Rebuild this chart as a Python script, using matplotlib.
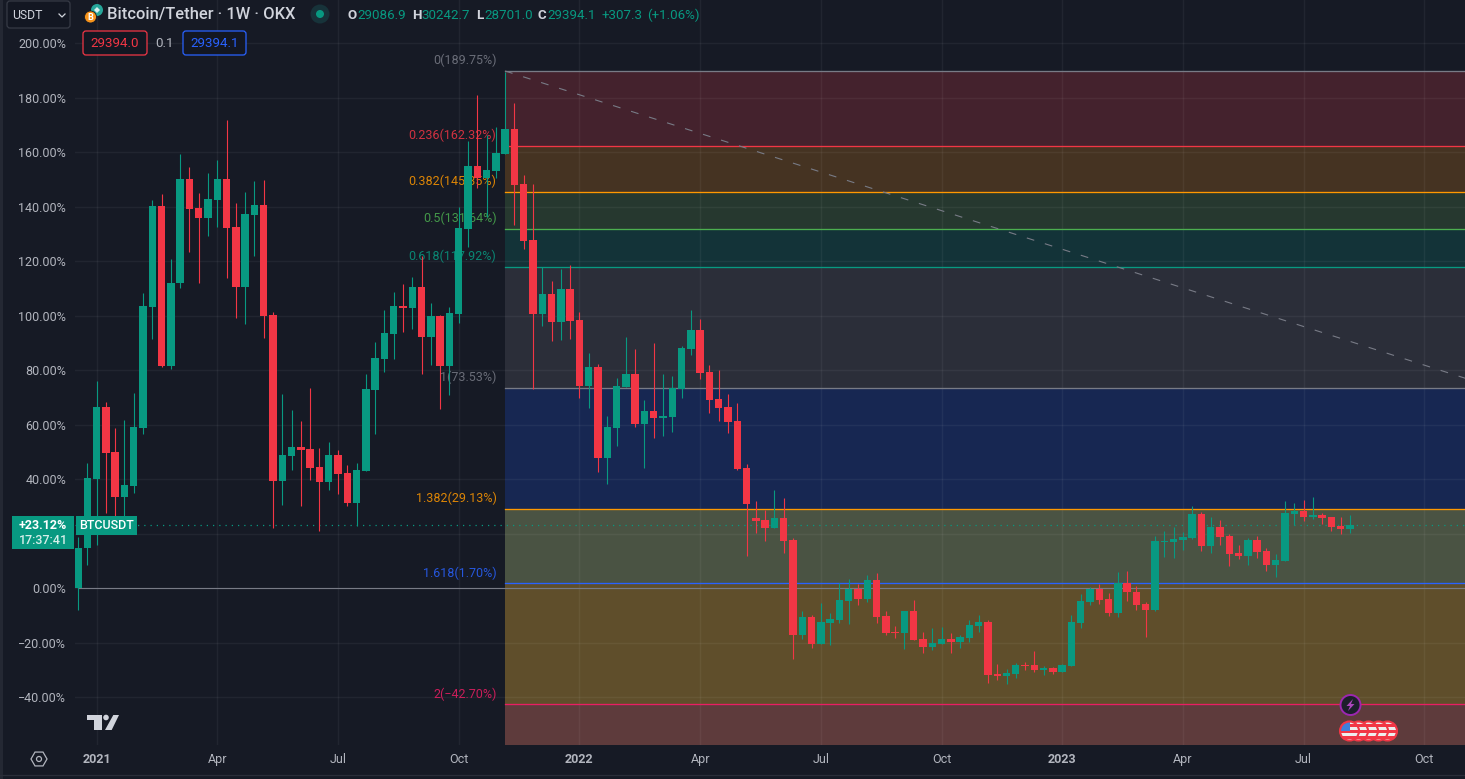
import numpy as np
import matplotlib
matplotlib.use("Agg")
import matplotlib.pyplot as plt
from matplotlib.patches import Circle, FancyBboxPatch, Polygon, Rectangle

plt.rcParams['font.family'] = ['Roboto', 'DejaVu Sans']

# --- weekly candles, in percent from the first open ---
opens = [0, 14.7, 40.0, 66.4, 49.9, 33.4, 37.4, 58.7, 103.1, 140.2, 81.5, 111.9, 150.1, 139.5, 135.8, 142.4, 150.1, 132.5, 110.5, 136.9,
         140.6, 100.2, 39.3, 48.4, 51.7, 51.0, 44.4, 38.9, 48.8, 42.2, 31.2, 42.9, 72.7, 84.0, 93.2, 103.5, 102.8, 110.5, 92.1, 99.8,
         81.5, 100.6, 131.7, 154.9, 150.5, 153.0, 159.3, 168.4, 148.3, 127.7, 100.6, 107.9, 97.6, 109.7, 98.3, 74.1, 81.1, 47.7, 58.7, 73.8,
         78.5, 60.2, 65.0, 62.4, 62.8, 73.0, 87.7, 94.7, 79.3, 69.4, 66.4, 61.3, 44.0, 25.7, 25.0, 22.0, 25.7, 17.6, -17.2, -10.6,
         -20.6, -12.8, -11.7, -4.8, -0.4, -4.0, 2.9, -10.3, -16.1, -16.5, -8.4, -18.7, -21.7, -20.6, -18.7, -19.8, -18.3, -13.9, -12.5, -31.6,
         -32.3, -31.6, -28.3, -28.3, -30.1, -29.4, -30.8, -28.6, -12.8, -5.1, -0.4, -4.0, -9.2, 1.8, -1.5, -5.9, -8.1, 16.9, 16.9, 17.6,
         18.3, 27.2, 15.4, 22.4, 19.1, 12.8, 11.7, 17.6, 13.6, 8.4, 9.9, 27.2, 28.3, 26.1, 26.8, 26.1, 22.8, 21.7]
closes = [14.7, 40.4, 66.4, 49.5, 33.4, 37.8, 59.1, 103.5, 140.2, 81.5, 111.9, 150.1, 139.1, 135.8, 142.8, 150.1, 132.1, 110.5, 137.2, 140.6,
          99.8, 39.3, 48.8, 51.7, 50.6, 44.0, 38.9, 48.8, 41.8, 31.2, 43.3, 73.0, 84.4, 93.6, 103.5, 102.8, 110.5, 92.1, 99.8, 81.5,
          100.9, 132.1, 154.9, 150.5, 153.4, 159.6, 168.4, 147.9, 127.3, 100.6, 107.9, 97.6, 109.7, 98.0, 74.1, 81.1, 47.7, 59.1, 74.1, 78.5,
          60.2, 65.0, 62.4, 63.1, 73.4, 88.1, 94.7, 78.9, 69.0, 66.1, 60.9, 43.7, 30.8, 24.6, 22.0, 25.7, 17.2, -17.2, -10.6, -20.6,
          -12.5, -11.4, -4.4, -0.4, -4.0, 2.9, -10.6, -16.5, -16.5, -8.4, -19.1, -21.7, -20.2, -18.7, -19.8, -18.0, -13.6, -12.5, -31.9, -32.3,
          -31.2, -28.3, -28.6, -30.1, -29.4, -30.8, -28.3, -12.5, -4.8, -0.4, -4.4, -9.2, 1.8, -1.5, -6.2, -8.1, 17.2, 17.2, 18.0, 18.7,
          27.2, 15.4, 22.4, 18.7, 12.5, 11.7, 17.6, 13.2, 8.4, 10.3, 27.5, 28.3, 26.1, 26.8, 25.7, 22.4, 21.7, 23.1]
highs = [18.7, 45.9, 76.0, 68.3, 58.7, 61.7, 71.6, 108.3, 142.4, 144.6, 120.7, 159.3, 154.5, 145.0, 152.3, 157.1, 171.7, 141.3, 145.3, 149.4,
         149.7, 101.3, 71.2, 65.3, 61.3, 73.4, 51.4, 53.6, 50.6, 45.1, 45.9, 78.5, 90.3, 102.0, 108.6, 111.6, 114.1, 121.8, 104.6, 100.2,
         103.1, 139.8, 164.0, 180.9, 166.2, 169.2, 189.4, 178.0, 151.6, 148.3, 117.8, 112.7, 117.1, 118.5, 101.3, 86.2, 82.2, 63.1, 77.1, 92.1,
         87.7, 69.0, 89.9, 78.5, 77.8, 88.8, 102.0, 98.7, 81.8, 80.0, 71.2, 67.9, 45.5, 31.9, 28.6, 36.0, 33.0, 18.3, -8.4, -9.9,
         -5.5, -9.2, 1.8, 3.3, 1.5, 4.8, 5.5, -8.4, -13.9, -8.4, -4.4, -16.1, -14.7, -14.3, -16.5, -17.2, -11.7, -9.9, -11.7, -27.9,
         -29.7, -27.5, -27.2, -23.1, -28.6, -29.0, -27.9, -9.9, -2.2, 0.4, 1.5, -1.8, 5.9, 6.2, 0.7, -5.1, 19.1, 20.9, 22.4, 20.6,
         30.1, 27.9, 26.1, 25.0, 19.8, 15.8, 18.3, 19.1, 14.7, 12.5, 31.9, 31.2, 32.3, 33.4, 27.5, 26.1, 26.1, 26.8]
lows = [-8.1, 8.4, 15.8, 27.5, 26.1, 26.1, 34.9, 56.5, 91.4, 81.1, 80.4, 110.1, 123.3, 111.9, 129.2, 132.5, 113.8, 99.1, 96.9, 121.8,
        91.8, 22.0, 30.5, 43.3, 30.1, 39.6, 20.9, 36.0, 34.5, 30.1, 22.8, 42.9, 56.5, 79.3, 84.0, 94.0, 95.0, 78.5, 81.8, 65.7,
        70.8, 97.3, 125.1, 146.8, 136.1, 150.5, 159.3, 133.2, 124.4, 73.0, 96.1, 90.6, 91.0, 91.4, 69.7, 66.1, 42.6, 38.2, 52.1, 73.8,
        59.1, 44.0, 55.0, 55.8, 57.3, 69.7, 85.5, 76.7, 64.2, 61.3, 56.9, 43.3, 11.7, 20.2, 17.2, 22.0, 12.8, -26.1, -18.7, -22.0,
        -20.6, -20.9, -12.8, -13.2, -6.2, -5.1, -12.8, -17.2, -18.3, -22.4, -19.1, -23.9, -22.8, -20.6, -23.9, -22.0, -19.8, -16.1, -34.9, -33.8,
        -35.2, -33.0, -30.1, -30.8, -31.9, -31.6, -30.8, -28.6, -14.7, -6.2, -5.9, -10.3, -10.6, -4.8, -8.1, -18.0, -8.4, 11.4, 11.0, 13.9,
        18.0, 13.6, 12.8, 15.8, 8.1, 10.6, 8.4, 11.0, 6.2, 4.0, 9.9, 23.1, 24.6, 25.3, 23.5, 20.9, 19.8, 20.2]

# --- fibonacci levels ---
fib_names = ["0", "0.236", "0.382", "0.5", "0.618", "1", "1.382", "1.618", "2"]
fib_values = [189.75, 162.32, 145.35, 131.64, 117.92, 73.53, 29.13, 1.70, -42.70]
fib_colors = ["#787b86", "#f23645", "#ff9800", "#4caf50", "#089981", "#787b86", "#ff9800", "#2962ff", "#e91e63"]
zone_colors = ["#44222d", "#453322", "#26382f", "#133338", "#2b2e39", "#172752", "#4a5343", "#5f4e2b", "#5e3b3c"]
fib_start = 46
trend_x = [46, 149.4]
trend_y = [189.75, 77.0]

y_ticks = [200, 180, 160, 140, 120, 100, 80, 60, 40, 20, 0, -20, -40]
hidden_y_ticks = [20]
x_ticks = [2, 15, 28, 41, 54, 67, 80, 93, 106, 119, 132, 145]
x_labels = ["2021", "Apr", "Jul", "Oct", "2022", "Apr", "Jul", "Oct", "2023", "Apr", "Jul", "Oct"]
last_pct = 23.12

BG = "#161a25"
UP = "#089981"
DOWN = "#f23645"
TEXT = "#b2b5be"

W, H = 1465, 779
fig = plt.figure(figsize=(W / 100, H / 100), dpi=100, facecolor=BG)
ax = fig.add_axes([75 / W, (H - 745) / H, 1390 / W, 745 / H], facecolor=BG)
ax.set_xlim(-3 / 9.285, 1387 / 9.285)
ax.set_ylim(-57.6, 215.8)
for s in ax.spines.values():
    s.set_visible(False)

# zones, last one runs to the bottom of the pane
xmax = ax.get_xlim()[1]
zone_edges = fib_values + [ax.get_ylim()[0]]
for i, col in enumerate(zone_colors):
    ax.fill_between([fib_start, xmax], zone_edges[i + 1], zone_edges[i], color=col, lw=0, zorder=1)

# grid
ax.set_yticks(y_ticks)
ax.set_yticklabels(["" if v in hidden_y_ticks else f"{v:.2f}%".replace("-", "\u2212") for v in y_ticks])
ax.set_xticks(x_ticks)
ax.set_xticklabels(x_labels)
ax.tick_params(length=0, colors=TEXT, labelsize=9.0)
ax.tick_params(axis='y', pad=6.5)
ax.tick_params(axis='x', pad=6)
for lab in ax.get_yticklabels():
    lab.set_va("center_baseline")
for lab, name in zip(ax.get_xticklabels(), x_labels):
    if name.startswith("20"):
        lab.set_fontweight("bold")
ax.grid(True, color="white", alpha=0.05, lw=1)
ax.set_axisbelow(False)
for g in ax.get_xgridlines() + ax.get_ygridlines():
    g.set_zorder(2)

# level lines and labels
for name, val, col in zip(fib_names, fib_values, fib_colors):
    ax.plot([fib_start, xmax], [val, val], color=col, lw=0.95, zorder=3)
    label_text = f"{name}({val:.2f}%)".replace("-", "\u2212")
    ax.annotate(label_text, (fib_start, val), xytext=(-6.2, 7.6), textcoords="offset points",
                ha="right", va="center", fontsize=9.0, color=col, alpha=0.85, zorder=3)
ax.plot([0, xmax], [0, 0], color="#787b86", lw=0.8, zorder=3)
ax.plot(trend_x, trend_y, color="#787b86", lw=0.8, dashes=(7, 10), zorder=3)
ax.axhline(last_pct, color=UP, lw=0.9, ls=(0, (1, 4)), zorder=3)

# candles
x = np.arange(len(opens))
opens = np.array(opens)
closes = np.array(closes)
colors = np.where(closes >= opens, UP, DOWN)
ax.vlines(x, lows, highs, colors=colors, lw=0.8, zorder=4)
ax.bar(x, np.maximum(np.abs(closes - opens), 0.5), bottom=np.minimum(opens, closes),
       width=0.8, color=colors, lw=0, zorder=5)

# --- pixel overlay for the terminal chrome ---
ui = fig.add_axes([0, 0, 1, 1], facecolor="none")
ui.set_xlim(0, W)
ui.set_ylim(H, 0)
ui.axis("off")


def label(px, py, s, color=TEXT, size=9.2, ha="left", weight="normal"):
    ui.text(px, py, s, color=color, fontsize=size, ha=ha, va="center", fontweight=weight)


def box(x0, y0, x1, y1, face, edge, rad=3):
    ui.add_patch(FancyBboxPatch((x0 + rad, y0 + rad), x1 - x0 - 2 * rad, y1 - y0 - 2 * rad,
                                boxstyle=f"round,pad={rad},rounding_size={rad}", fc=face, ec=edge, lw=0.9))


ui.add_patch(Rectangle((0, 0), 3, H, fc="#242833", lw=0))
ui.plot([0, W], [774.5, 774.5], color="#2a2e39", lw=0.9)

# header
box(7, 1, 70, 28, "#131722", "#363a45")
label(12, 15, "USDT", color="#d1d4dc", size=8.8)
ui.plot([59, 62, 65], [14, 17, 14], color="#d1d4dc", lw=0.9)
ui.add_patch(Circle((97, 10), 6, fc="#26a69a", lw=0))
ui.add_patch(Polygon([(94, 10), (97, 7), (100, 10), (97, 13)], fc="#d8efec", lw=0))
ui.add_patch(Circle((90.5, 17), 6, fc="#f7931a", ec=BG, lw=0.6))
label(90.5, 17, "B", color="white", size=6.5, ha="center", weight="bold")
label(107, 14.5, "Bitcoin/Tether \u00b7 1W \u00b7 OKX", color="#d1d4dc", size=11.85, weight="medium")
ui.add_patch(Circle((320, 14), 9.5, fc="#17333a", lw=0))
ui.add_patch(Circle((320, 14), 4, fc=UP, lw=0))

for px, s, col in [(347, "O", "#d1d4dc"), (357, "29086.9", UP), (412, "H", "#d1d4dc"), (421.5, "30242.7", UP),
                   (476, "L", "#d1d4dc"), (484, "28701.0", UP), (538, "C", "#d1d4dc"), (547, "29394.1", UP),
                   (602, "+307.3", UP), (647, "(+1.06%)", UP)]:
    label(px, 15.5, s, color=col, size=9.6, weight="bold" if len(s) == 1 else "normal")

box(83, 31, 147, 55, "#131722", DOWN)
label(115, 43.5, "29394.0", color=DOWN, size=9.6, ha="center")
label(165, 43.5, "0.1", color="#b2b5be", size=9.6, ha="center")
box(183, 31, 246, 55, "#131722", "#2962ff")
label(214.5, 43.5, "29394.1", color="#2962ff", size=9.6, ha="center")

# last price tags
ui.add_patch(Rectangle((12, 516), 62, 33, fc=UP, lw=0))
label(43, 525.5, "+23.12%", color="white", size=9, ha="center", weight="bold")
label(43, 541, "17:37:41", color="#d5efe9", size=9, ha="center", weight="medium")
ui.add_patch(Rectangle((76, 516), 61, 19, fc=UP, lw=0))
label(106.5, 525.5, "BTCUSDT", color="white", size=9, ha="center", weight="medium")

# logo
ui.add_patch(Polygon([(87.3, 715), (101.7, 715), (101.7, 730), (94, 730), (94, 720), (87.3, 720)], fc="#d1d4dc", lw=0))
ui.add_patch(Circle((106, 717.5), 2.8, fc="#d1d4dc", lw=0))
ui.add_patch(Polygon([(113.3, 715), (119, 715), (111.7, 730), (105, 730)], fc="#d1d4dc", lw=0))

# settings
hex_a = np.deg2rad(np.arange(0, 360, 60))
ui.add_patch(Polygon(np.c_[39 + 8 * np.cos(hex_a), 759 + 8 * np.sin(hex_a)], fc="none", ec=TEXT, lw=0.9))
ui.add_patch(Circle((39, 759), 2.5, fc="none", ec=TEXT, lw=0.9))

# events
ui.add_patch(Circle((1350.5, 705), 10, fc="#1c1f2b", ec="#9c27b0", lw=1.4, zorder=6))
ui.add_patch(Polygon([(1353, 699), (1346.5, 706), (1350, 706), (1348, 711), (1354.5, 704), (1351, 704)],
                     fc="#ab47bc", lw=0, zorder=7))

for i, cx in reversed(list(enumerate([1349.5, 1358.5, 1368.5, 1378.5, 1387.5]))):
    z = 8 + (5 - i) * 3
    c = Circle((cx, 731), 9.5, fc="#eeeeee", ec="none", zorder=z)
    ui.add_patch(c)
    for k in range(3):
        st = Rectangle((cx - 10, 723.5 + k * 6), 20, 3, fc="#f23645", lw=0, zorder=z)
        ui.add_patch(st)
        st.set_clip_path(c)
    if i == 0:
        cant = Rectangle((cx - 10, 721), 10.5, 9.5, fc="#3f7fd9", lw=0, zorder=z + 1)
        ui.add_patch(cant)
        cant.set_clip_path(c)
    ui.add_patch(Circle((cx, 731), 9.5, fc="none", ec="#f23645", lw=1.5, zorder=z + 2))

fig.savefig("out.png", dpi=100, facecolor=BG)
plt.close(fig)
